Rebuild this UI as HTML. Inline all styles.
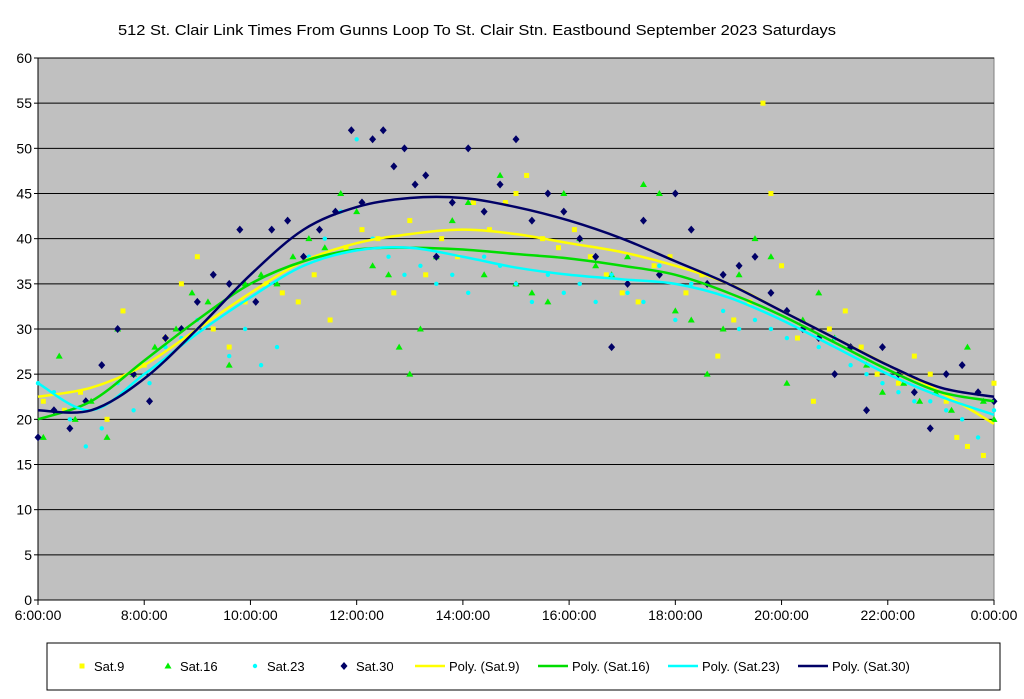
<!DOCTYPE html>
<html><head><meta charset="utf-8">
<style>
body{margin:0;background:#fff;font-family:"Liberation Sans",sans-serif;}
svg text{font-family:"Liberation Sans",sans-serif;}
</style></head>
<body>
<svg id="chart" width="1024" height="694" xmlns="http://www.w3.org/2000/svg"></svg>
<script>
const xTicks=[6,8,10,12,14,16,18,20,22,24];
const xTickLabels=["6:00:00","8:00:00","10:00:00","12:00:00","14:00:00","16:00:00","18:00:00","20:00:00","22:00:00","0:00:00"];
const yTicks=[0,5,10,15,20,25,30,35,40,45,50,55,60];
const trendHours=[6,7,8,9,10,11,12,13,14,15,16,17,18,19,20,21,22,23,24];
const trendSat9=[22.5,23.5,26,30,34,37.5,39.5,40.5,41,40.5,39.5,38.5,37,35,32,29,26,23,19.5];
const trendSat16=[20,22,26.5,31,35,37.5,38.8,39,38.8,38.3,37.8,37,36,34,31.5,28.5,25.5,23,22];
const trendSat23=[24,21,25,29.5,33.5,37,38.7,39,38,36.8,36,35.5,35,33.5,31,28,25,22.5,20.5];
const trendSat30=[21,21,24.5,30,36,41,43.5,44.5,44.5,43.5,42,40,37.5,35,32,29,26,23.5,22.5];
const sat9=[[6.1,22],[6.5,21],[6.8,23],[7.3,20],[7.6,32],[8.0,26],[8.4,29],[8.7,35],[9.0,38],[9.3,30],[9.6,28],[9.9,33],[10.3,35],[10.6,34],[10.9,33],[11.2,36],[11.5,31],[11.8,39],[12.1,41],[12.4,40],[12.7,34],[13.0,42],[13.3,36],[13.6,40],[13.9,38],[14.2,44],[14.5,41],[14.8,44],[15.0,45],[15.2,47],[15.5,40],[15.8,39],[16.1,41],[16.4,38],[16.7,36],[17.0,34],[17.3,33],[17.6,37],[17.9,38],[18.2,34],[18.5,36],[18.8,27],[19.1,31],[19.4,33],[19.65,55],[19.8,45],[20.0,37],[20.3,29],[20.6,22],[20.9,30],[21.2,32],[21.5,28],[21.8,25],[22.2,24],[22.5,27],[22.8,25],[23.1,22],[23.3,18],[23.5,17],[23.8,16],[24.0,24]];
const sat16=[[6.1,18],[6.4,27],[6.7,20],[7.0,22],[7.3,18],[7.5,30],[7.8,25],[8.2,28],[8.6,30],[8.9,34],[9.2,33],[9.6,26],[9.9,35],[10.2,36],[10.5,35],[10.8,38],[11.1,40],[11.4,39],[11.7,45],[12.0,43],[12.3,37],[12.6,36],[12.8,28],[13.0,25],[13.2,30],[13.5,38],[13.8,42],[14.1,44],[14.4,36],[14.7,47],[15.0,35],[15.3,34],[15.6,33],[15.9,45],[16.2,40],[16.5,37],[16.8,36],[17.1,38],[17.4,46],[17.7,45],[18.0,32],[18.3,31],[18.6,25],[18.9,30],[19.2,36],[19.5,40],[19.8,38],[20.1,24],[20.4,31],[20.7,34],[21.0,29],[21.3,28],[21.6,26],[21.9,23],[22.3,24],[22.6,22],[22.9,23],[23.2,21],[23.5,28],[23.8,22],[24.0,20]];
const sat23=[[6.0,24],[6.3,23],[6.6,20],[6.9,17],[7.2,19],[7.5,24],[7.8,21],[8.1,24],[8.4,28],[8.7,29],[9.0,31],[9.3,36],[9.6,27],[9.9,30],[10.2,26],[10.5,28],[10.8,37],[11.1,38],[11.4,40],[11.7,43],[12.0,51],[12.3,40],[12.6,38],[12.9,36],[13.2,37],[13.5,35],[13.8,36],[14.1,34],[14.4,38],[14.7,37],[15.0,35],[15.3,33],[15.6,36],[15.9,34],[16.2,35],[16.5,33],[16.8,36],[17.1,34],[17.4,33],[17.7,37],[18.0,31],[18.3,35],[18.6,36],[18.9,32],[19.2,30],[19.5,31],[19.8,30],[20.1,29],[20.4,30],[20.7,28],[21.0,29],[21.3,26],[21.6,25],[21.9,24],[22.2,23],[22.5,22],[22.8,22],[23.1,21],[23.4,20],[23.7,18],[24.0,21]];
const sat30=[[6.0,18],[6.3,21],[6.6,19],[6.9,22],[7.2,26],[7.5,30],[7.8,25],[8.1,22],[8.4,29],[8.7,30],[9.0,33],[9.3,36],[9.6,35],[9.8,41],[10.1,33],[10.4,41],[10.7,42],[11.0,38],[11.3,41],[11.6,43],[11.9,52],[12.1,44],[12.3,51],[12.5,52],[12.7,48],[12.9,50],[13.1,46],[13.3,47],[13.5,38],[13.8,44],[14.1,50],[14.4,43],[14.7,46],[15.0,51],[15.3,42],[15.6,45],[15.9,43],[16.2,40],[16.5,38],[16.8,28],[17.1,35],[17.4,42],[17.7,36],[18.0,45],[18.3,41],[18.6,35],[18.9,36],[19.2,37],[19.5,38],[19.8,34],[20.1,32],[20.4,30],[20.7,29],[21.0,25],[21.3,28],[21.6,21],[21.9,28],[22.2,25],[22.5,23],[22.8,19],[23.1,25],[23.4,26],[23.7,23],[24.0,22]];

const NS="http://www.w3.org/2000/svg";
const svg=document.getElementById('chart');
const L=38,R=994,T=58,B=600;
const xS=h=>L+(h-6)/18*(R-L);
const yS=v=>B-v/60*(B-T);
function mk(tag,attrs,parent){const e=document.createElementNS(NS,tag);for(const k in attrs)e.setAttribute(k,attrs[k]);(parent||svg).appendChild(e);return e;}

const title=mk('text',{x:118,y:35,'font-size':15,textLength:718,lengthAdjust:'spacingAndGlyphs'});
title.textContent="512 St. Clair Link Times From Gunns Loop To St. Clair Stn. Eastbound September 2023  Saturdays";



const plot=mk('rect',{x:L,y:T,width:R-L,height:B-T,fill:'#c0c0c0',stroke:'#808080'});



yTicks.forEach(v=>{
  const y=yS(v);
  const g=mk('line',{x1:L,x2:R,y1:y,y2:y,stroke:'#000','stroke-width':1});
  
  
  mk('line',{x1:L-4,x2:L,y1:y,y2:y,stroke:'#000'});
  const t=mk('text',{x:L-6,y:y+5,'text-anchor':'end','font-size':14});
  t.textContent=v;
  
  
});
mk('line',{x1:L,x2:L,y1:T,y2:B,stroke:'#000'});
xTicks.forEach((h,i)=>{
  const x=xS(h);
  mk('line',{x1:x,x2:x,y1:B,y2:B+5,stroke:'#000'});
  const t=mk('text',{x:x,y:B+20,'text-anchor':'middle','font-size':14});
  t.textContent=xTickLabels[i];
  
  
});

function marker(type,color,x,y,parent){
  if(type==='sq') return mk('rect',{x:x-2.5,y:y-2.5,width:5,height:5,fill:color},parent);
  if(type==='tri') return mk('polygon',{points:`${x},${y-3.5} ${x+3.5},${y+2.5} ${x-3.5},${y+2.5}`,fill:color},parent);
  if(type==='ci') return mk('circle',{cx:x,cy:y,r:2.2,fill:color},parent);
  return mk('polygon',{points:`${x},${y-4} ${x+3.5},${y} ${x},${y+4} ${x-3.5},${y}`,fill:color},parent);
}
const series=[
 {name:'Sat.9',data:sat9,type:'sq',color:'#ffff00'},
 {name:'Sat.16',data:sat16,type:'tri',color:'#00ee00'},
 {name:'Sat.23',data:sat23,type:'ci',color:'#00ffff'},
 {name:'Sat.30',data:sat30,type:'di',color:'#000066'}];
series.forEach(s=>{
  const g=mk('g',{});
  
  
  s.data.forEach(p=>{
    const m=marker(s.type,s.color,xS(p[0]),yS(p[1]),g);
    
    
  });
});

function smooth(vals){
  const pts=trendHours.map((h,i)=>[xS(h),yS(vals[i])]);
  let d=`M${pts[0][0]},${pts[0][1]}`;
  for(let i=0;i<pts.length-1;i++){
    const p0=pts[Math.max(0,i-1)],p1=pts[i],p2=pts[i+1],p3=pts[Math.min(pts.length-1,i+2)];
    d+=` C${p1[0]+(p2[0]-p0[0])/6},${p1[1]+(p2[1]-p0[1])/6} ${p2[0]-(p3[0]-p1[0])/6},${p2[1]-(p3[1]-p1[1])/6} ${p2[0]},${p2[1]}`;
  }
  return d;
}
const trends=[
 {name:'Poly. (Sat.9)',vals:trendSat9,color:'#ffff00'},
 {name:'Poly. (Sat.16)',vals:trendSat16,color:'#00dd00'},
 {name:'Poly. (Sat.23)',vals:trendSat23,color:'#00ffff'},
 {name:'Poly. (Sat.30)',vals:trendSat30,color:'#000066'}];
trends.forEach(t=>{
  const p=mk('path',{d:smooth(t.vals),fill:'none',stroke:t.color,'stroke-width':2.5});
  
  
});

const lg=mk('rect',{x:47,y:643,width:953,height:47,fill:'#fff',stroke:'#000'});


const lx=[82,168,255,344,437,560,690,820];
series.forEach((s,i)=>{
  marker(s.type,s.color,lx[i],666);
  const t=mk('text',{x:lx[i]+12,y:671,'font-size':13});
  t.textContent=s.name;
  
  
});
trends.forEach((tr,i)=>{
  const x=lx[i+4];
  mk('line',{x1:x-22,x2:x+8,y1:666,y2:666,stroke:tr.color,'stroke-width':2.5});
  const t=mk('text',{x:x+12,y:671,'font-size':13});
  t.textContent=tr.name;
  
  
});
</script>
</body></html>
